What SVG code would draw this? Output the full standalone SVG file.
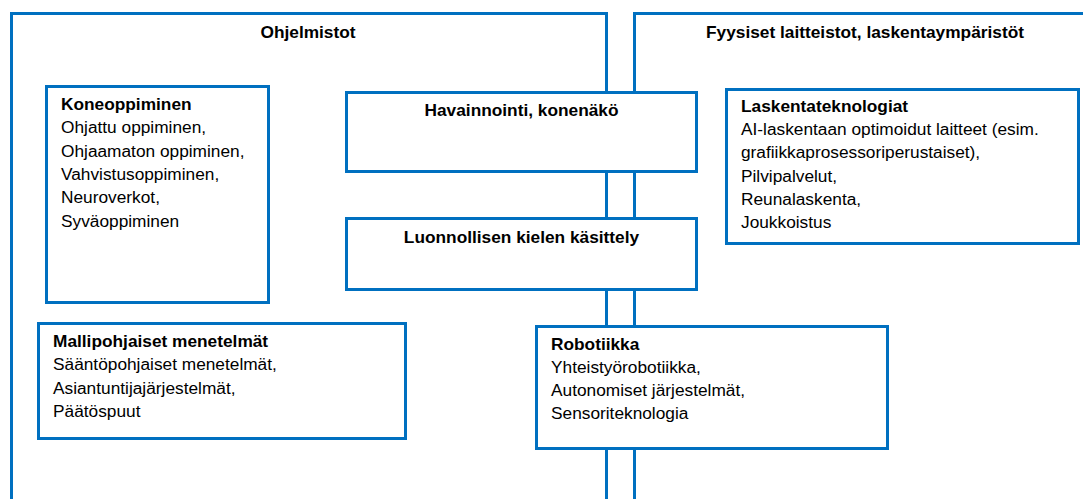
<svg xmlns="http://www.w3.org/2000/svg" width="1083" height="499" viewBox="0 0 1083 499">
<style>
.frame{fill:none;stroke:#0070C0;stroke-width:3}
.box{fill:#fff;stroke:#0070C0;stroke-width:3}
text{font-family:"Liberation Sans",Arial,sans-serif;font-size:17.3px;fill:#000}
.b{font-weight:bold}
.c{text-anchor:middle}
</style>
<rect x="0" y="0" width="1083" height="499" fill="#fff"/>
<g id="connectors">
<path class="frame" d="M11.5 500 V13.5 H606.5 V500"/>
<path class="frame" d="M634.5 500 V13.5 H1084"/>
</g>
<g id="ohjelmistot"><text class="b c" x="308" y="38">Ohjelmistot</text></g>
<g id="fyysiset"><text class="b c" x="865" y="38">Fyysiset laitteistot, laskentaympäristöt</text></g>
<g id="koneoppiminen">
<rect class="box" x="46.5" y="86.5" width="222" height="216"/>
<text x="61" y="110"><tspan class="b">Koneoppiminen</tspan><tspan x="61" dy="23.3">Ohjattu oppiminen,</tspan><tspan x="61" dy="23.3">Ohjaamaton oppiminen,</tspan><tspan x="61" dy="23.3">Vahvistusoppiminen,</tspan><tspan x="61" dy="23.3">Neuroverkot,</tspan><tspan x="61" dy="23.3">Syväoppiminen</tspan></text>
</g>
<g id="havainnointi">
<rect class="box" x="346.5" y="92.5" width="350" height="79"/>
<text class="b c" x="521.5" y="116">Havainnointi, konenäkö</text>
</g>
<g id="luonnollinen">
<rect class="box" x="346.5" y="218.5" width="350" height="71"/>
<text class="b c" x="521.5" y="243">Luonnollisen kielen käsittely</text>
</g>
<g id="laskentateknologiat">
<rect class="box" x="726.5" y="89.5" width="352" height="154"/>
<text x="741" y="112"><tspan class="b">Laskentateknologiat</tspan><tspan x="741" dy="23.2">AI-laskentaan optimoidut laitteet (esim.</tspan><tspan x="741" dy="23.2">grafiikkaprosessoriperustaiset),</tspan><tspan x="741" dy="23.2">Pilvipalvelut,</tspan><tspan x="741" dy="23.2">Reunalaskenta,</tspan><tspan x="741" dy="23.2">Joukkoistus</tspan></text>
</g>
<g id="mallipohjaiset">
<rect class="box" x="38.5" y="323.5" width="367" height="115"/>
<text x="53" y="347"><tspan class="b">Mallipohjaiset menetelmät</tspan><tspan x="53" dy="23.3">Sääntöpohjaiset menetelmät,</tspan><tspan x="53" dy="23.3">Asiantuntijajärjestelmät,</tspan><tspan x="53" dy="23.3">Päätöspuut</tspan></text>
</g>
<g id="robotiikka">
<rect class="box" x="536.5" y="326.5" width="351" height="122"/>
<text x="551" y="350"><tspan class="b">Robotiikka</tspan><tspan x="551" dy="23">Yhteistyörobotiikka,</tspan><tspan x="551" dy="23">Autonomiset järjestelmät,</tspan><tspan x="551" dy="23">Sensoriteknologia</tspan></text>
</g>
</svg>
